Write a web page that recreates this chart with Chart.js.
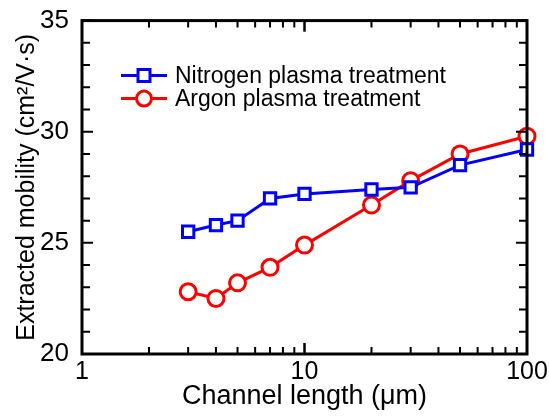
<!DOCTYPE html>
<html>
<head>
<meta charset="utf-8">
<script src="https://cdn.jsdelivr.net/npm/chart.js@4"></script>
<style>
  html, body { margin: 0; padding: 0; background: #fff; }
  #wrap { width: 549px; height: 419px; }
</style>
</head>
<body>
<div id="wrap"><canvas id="chart"></canvas></div>
<script>
// channel length (um)
const channelLength = [3, 4, 5, 7, 10, 20, 30, 50, 100];
const nitrogenMobility = [25.5, 25.8, 26.0, 27.0, 27.2, 27.4, 27.5, 28.5, 29.2];
const argonMobility = [22.8, 22.5, 23.2, 23.9, 24.9, 26.7, 27.8, 29.0, 29.8];
const xTickLabels = [1, 10, 100];
const yTickLabels = [20, 25, 30, 35];

const FONT = "Arial, 'Liberation Sans', sans-serif";

function toPoints(ys) {
  return channelLength.map((x, i) => ({ x: x, y: ys[i] }));
}

// frame + inward ticks on all four sides
const frameTicks = {
  id: "frameTicks",
  afterDatasetsDraw(chart) {
    const ctx = chart.ctx;
    const a = chart.chartArea;
    const xs = chart.scales.x, ys = chart.scales.y;
    ctx.save();
    ctx.strokeStyle = "#000";
    ctx.lineWidth = 2;
    // y ticks
    for (let v = 20; v <= 35; v++) {
      const py = ys.getPixelForValue(v);
      const len = v % 5 === 0 ? 11 : 8;
      ctx.beginPath();
      ctx.moveTo(a.left, py); ctx.lineTo(a.left + len, py);
      ctx.moveTo(a.right, py); ctx.lineTo(a.right - len, py);
      ctx.stroke();
    }
    // x ticks (log)
    for (let d = 1; d <= 10; d *= 10) {
      for (let m = 1; m <= 10; m++) {
        const v = d * m;
        if (v > 100) continue;
        const px = xs.getPixelForValue(v);
        const len = (m === 1 || m === 10) ? 11 : 7;
        ctx.beginPath();
        ctx.moveTo(px, a.bottom); ctx.lineTo(px, a.bottom - len);
        ctx.moveTo(px, a.top); ctx.lineTo(px, a.top + len);
        ctx.stroke();
      }
    }
    ctx.lineWidth = 3;
    ctx.strokeRect(a.left, a.top, a.right - a.left, a.bottom - a.top);
    ctx.restore();
  }
};

// legend drawn inside the plot area
const insideLegend = {
  id: "insideLegend",
  afterDraw(chart) {
    const ctx = chart.ctx;
    const a = chart.chartArea;
    ctx.save();
    chart.data.datasets.forEach((ds, i) => {
      const y = a.top + 55 + i * 23;
      const x0 = a.left + 39, x1 = a.left + 85, xm = (x0 + x1) / 2;
      ctx.strokeStyle = ds.borderColor;
      ctx.lineWidth = 3;
      ctx.beginPath(); ctx.moveTo(x0, y); ctx.lineTo(x1, y); ctx.stroke();
      ctx.fillStyle = "#fff";
      ctx.beginPath();
      if (ds.pointStyle === "rect") {
        ctx.rect(xm - 6, y - 6, 12, 12);
      } else {
        ctx.arc(xm, y, 7.5, 0, Math.PI * 2);
      }
      ctx.fill(); ctx.stroke();
      ctx.fillStyle = "#000";
      ctx.font = "23px " + FONT;
      ctx.textBaseline = "middle";
      ctx.fillText(ds.label, x1 + 8, y + 1);
    });
    ctx.restore();
  }
};

new Chart(document.getElementById("chart").getContext("2d"), {
  type: "line",
  data: {
    datasets: [
      {
        label: "Nitrogen plasma treatment",
        data: toPoints(nitrogenMobility),
        borderColor: "#0000ff",
        backgroundColor: "#fff",
        borderWidth: 3,
        pointStyle: "rect",
        pointRadius: 8,
        pointBorderWidth: 3,
        pointBackgroundColor: "#fff",
        pointBorderColor: "#0000ff",
        clip: false
      },
      {
        label: "Argon plasma treatment",
        data: toPoints(argonMobility),
        borderColor: "#ff0000",
        backgroundColor: "#fff",
        borderWidth: 3,
        pointStyle: "circle",
        pointRadius: 8,
        pointBorderWidth: 3,
        pointBackgroundColor: "#fff",
        pointBorderColor: "#ff0000",
        clip: false
      }
    ]
  },
  options: {
    responsive: true,
    maintainAspectRatio: false,
    animation: false,
    layout: { padding: { top: 20, right: 22, left: 0, bottom: 0 } },
    plugins: {
      legend: { display: false },
      tooltip: { enabled: false }
    },
    scales: {
      x: {
        type: "logarithmic",
        min: 1,
        max: 100,
        afterBuildTicks(scale) {
          scale.ticks = xTickLabels.map(v => ({ value: v }));
        },
        afterFit(scale) { scale.height = 65; },
        grid: { display: false },
        border: { display: false },
        ticks: {
          color: "#000",
          font: { family: FONT, size: 25 },
          padding: -5,
          maxRotation: 0,
          callback: v => String(v)
        },
        title: {
          display: true,
          text: "Channel length (\u03bcm)",
          color: "#000",
          font: { family: FONT, size: 27 },
          padding: { top: 0, bottom: 6 }
        }
      },
      y: {
        type: "linear",
        min: 20,
        max: 35,
        afterBuildTicks(scale) {
          scale.ticks = yTickLabels.map(v => ({ value: v }));
        },
        afterFit(scale) { scale.width = 82; },
        grid: { display: false },
        border: { display: false },
        ticks: {
          color: "#000",
          font: { family: FONT, size: 26 },
          padding: 5
        },
        title: {
          display: true,
          text: "Extracted mobility (cm\u00b2/V\u00b7s)",
          color: "#000",
          font: { family: FONT, size: 25 },
          padding: { top: 12, bottom: 0 }
        }
      }
    }
  },
  plugins: [frameTicks, insideLegend]
});
</script>
</body>
</html>
